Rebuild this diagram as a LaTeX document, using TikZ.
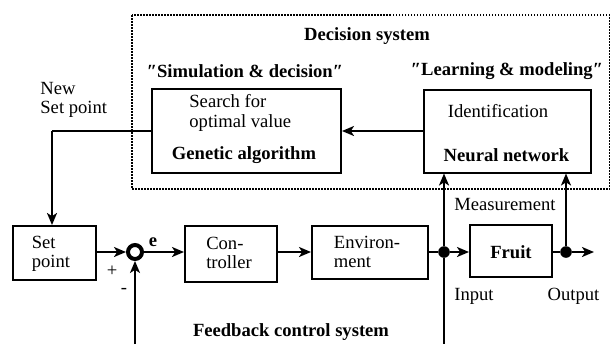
\documentclass[tikz,border=0pt]{standalone}
\usepackage{fontspec}
\setmainfont{Liberation Serif}
\usetikzlibrary{arrows.meta}
\newcommand{\dq}{{\itshape\symbol{"2033}}}
\begin{document}
\begin{tikzpicture}[x=0.5pt,y=-0.5pt,
  font=\fontsize{9.3}{9.8}\selectfont,
  box/.style={draw,line width=1pt,inner sep=0pt},
  txt/.style={inner sep=0pt,align=left},
  bt/.style={txt,font=\fontsize{9.3}{9.8}\selectfont\bfseries},
  arr/.style={line width=1pt,-{Stealth[length=6pt,width=5pt,inset=1.6pt]}},
  ln/.style={line width=1pt},
  dotnode/.style={circle,fill,inner sep=0pt,minimum size=5.8pt},
  sumnode/.style={circle,draw,line width=2pt,inner sep=0pt,minimum size=7pt}]
\useasboundingbox (0,0) rectangle (611,344);
% decision system frame
\draw[line width=0.75pt,dash pattern=on 0.75pt off 0.75pt] (132,15) rectangle (609.5,189);
\node[bt] (ds) at (367,36) {Decision system};
\node[bt] (sd) at (245,71) {\dq Simulation \& decision\dq};
\node[bt] (lm) at (507,71) {\dq Learning \& modeling\dq};
% GA box
\node[box,minimum width=94.5pt,minimum height=42pt] (ga) at (246.5,131) {};
\node[txt,anchor=west] (gat) at (189,113) {Search for\\optimal value};
\node[bt] (gab) at (244,155) {Genetic algorithm};
% NN box
\node[box,minimum width=83.5pt,minimum height=41.5pt] (nn) at (507.5,131) {};
\node[txt] (nnt) at (498,111) {Identification};
\node[bt] (nnb) at (506.5,155) {Neural network};
% new set point label
\node[txt,anchor=west] (nsp) at (40,100) {New\\Set point};
% lower row
\node[box,minimum width=41.5pt,minimum height=27pt] (sp) at (54.5,253) {};
\node[txt] (spt) at (51,254) {Set\\point};
\node[sumnode] (sum) at (135,252) {};
\node[box,minimum width=46pt,minimum height=28pt] (ctrl) at (231,254) {};
\node[txt] (ctrlt) at (229,253) {Con-\\troller};
\node[box,minimum width=58pt,minimum height=26.5pt] (env) at (370,252.5) {};
\node[txt] (envt) at (367,252) {Environ-\\ment};
\node[box,minimum width=41pt,minimum height=26pt] (fr) at (511,251) {};
\node[bt] (frt) at (511,252) {Fruit};
\node[dotnode] (j) at (444,252) {};
\node[dotnode] (o) at (566,252) {};
\coordinate (oend) at (594,252);
\coordinate (jb) at (444,344);
\coordinate (sb) at (135,344);
\coordinate (gal) at (52,131);
% labels
\node[txt] (plus) at (112,271) {+};
\node[txt] (minus) at (124,291) {-};
\node[bt] (e) at (153,242) {e};
\node[txt] (meas) at (505,204) {Measurement};
\node[txt] (inp) at (474,296) {Input};
\node[txt] (outp) at (573.5,296) {Output};
\node[bt] (fcs) at (291,332) {Feedback control system};
% connectors
\draw[arr] (nn.west) -- (ga.east);
\draw[ln] (ga.west) -- (gal);
\draw[arr] (gal) -- (gal |- sp.north);
\draw[arr] (sp.east |- sum) -- (sum.west);
\draw[arr] (sum.east) -- (ctrl.west |- sum);
\draw[arr] (ctrl.east |- sum) -- (env.west |- sum);
\draw[ln] (env.east |- j) -- (j);
\draw[arr] (j) -- (fr.west |- j);
\draw[ln] (fr.east |- o) -- (o);
\draw[arr] (o) -- (oend);
\draw[arr] (j) -- (j |- nn.south);
\draw[arr] (o) -- (o |- nn.south);
\draw[ln] (j) -- (jb);
\draw[arr] (sb) -- (sum.south);
\end{tikzpicture}
\end{document}
